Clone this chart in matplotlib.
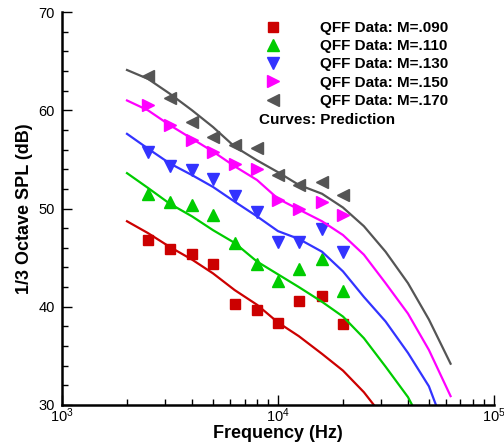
import matplotlib
matplotlib.use("Agg")
import matplotlib.pyplot as plt
from matplotlib.ticker import MultipleLocator, LogLocator

plt.rcParams['font.family'] = ['Liberation Sans', 'DejaVu Sans']
plt.rcParams['mathtext.fontset'] = 'custom'
plt.rcParams['mathtext.rm'] = 'Liberation Sans'

# measured 1/3 octave data
f_data = [2500, 3150, 4000, 5000, 6300, 8000, 10000, 12500, 16000, 20000]
spl_090 = [46.8, 45.9, 45.4, 44.3, 40.3, 39.7, 38.3, 40.6, 41.1, 38.2]
spl_110 = [51.5, 50.7, 50.4, 49.3, 46.5, 44.4, 42.6, 43.8, 44.9, 41.6]
spl_130 = [55.8, 54.3, 53.9, 53.0, 51.3, 49.6, 46.6, 46.6, 47.9, 45.6]
spl_150 = [60.5, 58.5, 57.0, 55.8, 54.5, 54.0, 50.9, 49.9, 50.7, 49.3]
spl_170 = [63.5, 61.2, 58.8, 57.3, 56.5, 56.2, 53.4, 52.4, 52.7, 51.4]

# predictions
f_pred_090 = [2000, 2500, 3150, 4000, 5000, 6300, 8000, 10000, 12500, 16000, 20000, 25000, 27800]
pred_090 = [48.7, 47.5, 46.1, 44.8, 43.4, 41.7, 40.2, 38.4, 37.0, 35.2, 33.5, 31.3, 30.0]
f_pred_110 = [2000, 2500, 3150, 4000, 5000, 6300, 8000, 10000, 12500, 16000, 20000, 25000, 31500, 40000, 41800]
pred_110 = [53.6, 52.1, 50.5, 49.2, 47.8, 46.5, 44.6, 43.3, 42.0, 40.5, 39.0, 36.8, 33.9, 30.8, 30.0]
f_pred_130 = [2000, 2500, 3150, 4000, 5000, 6300, 8000, 10000, 12500, 16000, 20000, 25000, 31500, 40000, 50000, 53900]
pred_130 = [57.6, 56.1, 54.6, 53.4, 52.2, 50.7, 49.2, 47.7, 46.9, 45.6, 43.6, 41.0, 38.5, 35.3, 31.9, 30.0]
f_pred = [2000, 2500, 3150, 4000, 5000, 6300, 8000, 10000, 12500, 16000, 20000, 25000, 31500, 40000, 50000, 63000]
pred_150 = [61.0, 60.0, 58.5, 57.1, 55.8, 54.3, 52.9, 51.0, 49.9, 48.7, 47.3, 45.3, 42.4, 39.3, 35.6, 30.9]
pred_170 = [64.1, 63.2, 61.7, 60.0, 58.3, 56.3, 54.9, 53.7, 52.4, 51.5, 50.1, 48.2, 45.6, 42.4, 38.7, 34.2]

labels = ["QFF Data: M=.090", "QFF Data: M=.110", "QFF Data: M=.130",
          "QFF Data: M=.150", "QFF Data: M=.170"]
colors = ["#cc0000", "#00cc00", "#3333ff", "#ff00ff", "#555555"]
markers = ["s", "^", "v", ">", "<"]
msizes = [7.5, 8.5, 8.5, 8.5, 8.5]

data = [spl_090, spl_110, spl_130, spl_150, spl_170]
preds = [(f_pred_090, pred_090), (f_pred_110, pred_110), (f_pred_130, pred_130),
         (f_pred, pred_150), (f_pred, pred_170)]

fig = plt.figure(figsize=(5.04, 4.46), dpi=100)
ax = fig.add_axes([0.123, 0.092, 0.857, 0.881])

handles = []
for i in range(5):
    fx, py = preds[i]
    ax.plot(fx, py, color=colors[i], lw=1.6)
    h, = ax.plot(f_data, data[i], linestyle='none', marker=markers[i],
                 color=colors[i], markersize=msizes[i], label=labels[i])
    handles.append(h)

ax.set_xscale('log')
ax.set_xlim(1e3, 1e5)
ax.set_ylim(30, 70)
ax.yaxis.set_major_locator(MultipleLocator(10))
ax.yaxis.set_minor_locator(MultipleLocator(2))
ax.xaxis.set_major_locator(LogLocator(base=10))
ax.xaxis.set_minor_locator(LogLocator(base=10, subs=range(2, 10)))

for s in ['top', 'right']:
    ax.spines[s].set_visible(False)
for s in ['left', 'bottom']:
    ax.spines[s].set_linewidth(1.8)

ax.tick_params(which='both', direction='in', width=1.0, labelsize=10.5)
ax.tick_params(which='major', length=7)
ax.tick_params(which='minor', length=4.5)
ax.tick_params(axis='y', which='both', pad=5)
ax.tick_params(axis='x', which='both', pad=1)

ax.set_xlabel("Frequency (Hz)", fontsize=13, fontweight='bold', labelpad=0)
ax.set_ylabel("1/3 Octave SPL (dB)", fontsize=13, fontweight='bold', labelpad=4)

leg = ax.legend(handles=handles, loc='upper left', bbox_to_anchor=(0.456, 0.993),
                frameon=False, handlelength=1.0, handletextpad=2.6,
                labelspacing=0.28, borderaxespad=0,
                prop={'weight': 'bold', 'size': 11})
ax.text(0.455, 0.725, "Curves: Prediction", transform=ax.transAxes,
        fontsize=11, fontweight='bold', va='center', ha='left')

fig.savefig("out.png", dpi=100)
